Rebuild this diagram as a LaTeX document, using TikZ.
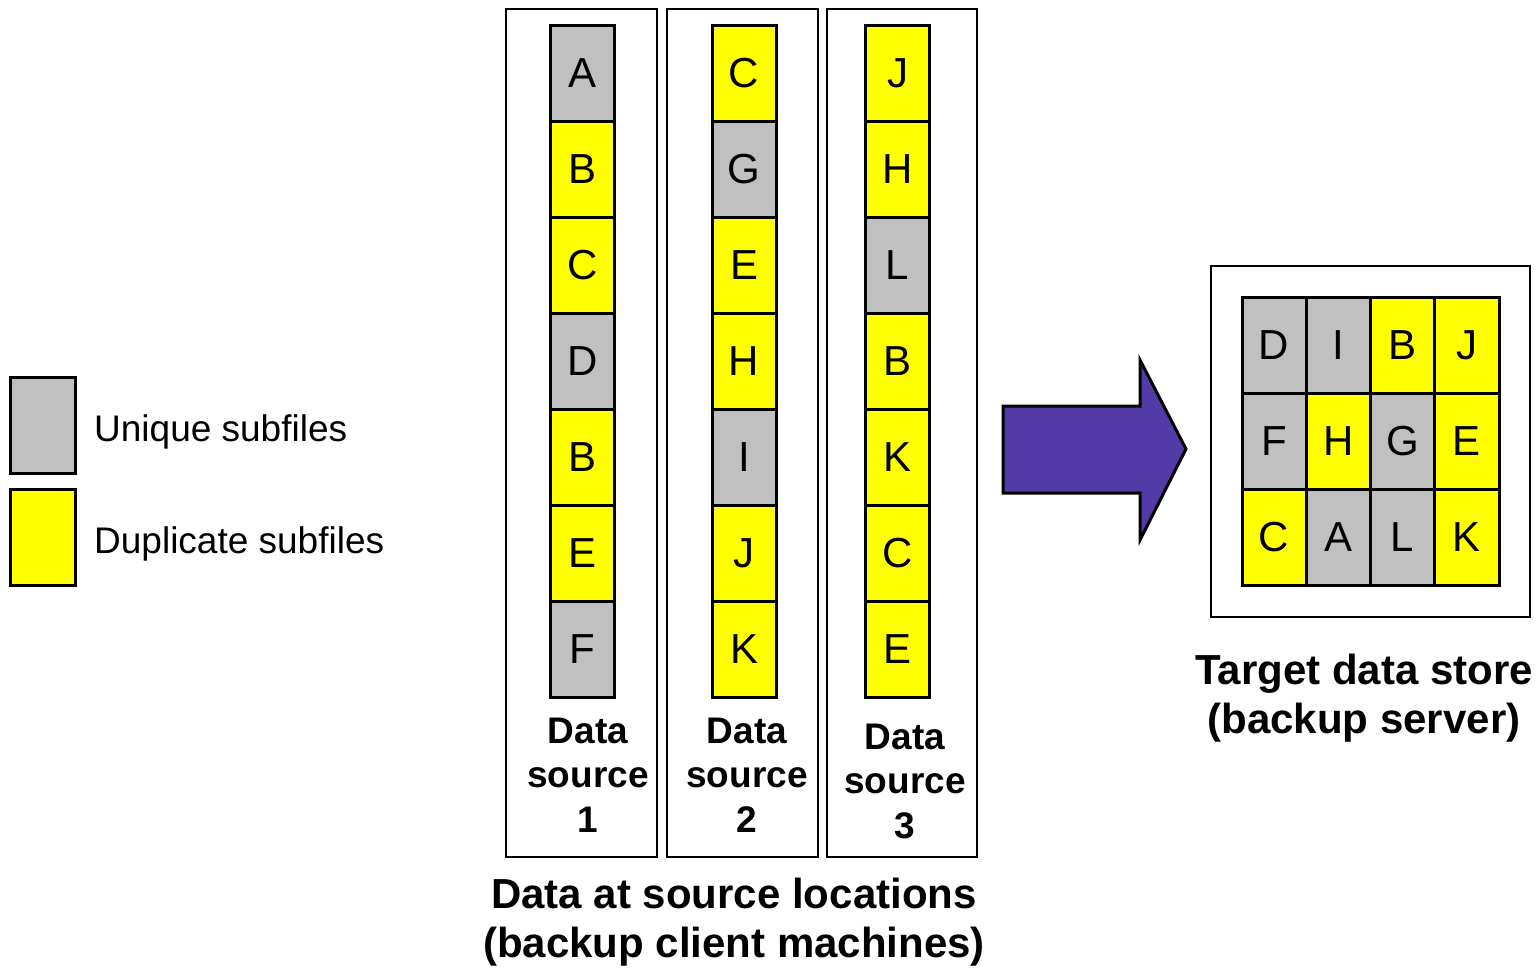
\documentclass[tikz,border=0pt]{standalone}
\usepackage{fontspec}
\setmainfont{Liberation Sans}
\definecolor{uniquegray}{RGB}{192,192,192}
\definecolor{dupyellow}{RGB}{255,255,0}
\definecolor{arrowpurple}{RGB}{82,59,166}
\begin{document}
\begin{tikzpicture}[x=1pt,y=-1pt,
  cell/.style={draw, line width=3pt, minimum width=64pt, minimum height=96pt,
    inner sep=0pt, font=\fontsize{42}{50}\selectfont},
  unicell/.style={cell, fill=uniquegray},
  dupcell/.style={cell, fill=dupyellow},
  srcbox/.style={draw, line width=2.5pt, inner sep=0pt},
  keybox/.style={draw, line width=3pt, minimum width=65pt, minimum height=96pt, inner sep=0pt},
  keytext/.style={anchor=base west, inner sep=0pt, font=\fontsize{37}{45}\selectfont},
  dslabel/.style={anchor=base, align=center, inner sep=0pt, font=\bfseries\fontsize{37}{44.5}\selectfont},
  caption/.style={anchor=base, align=center, inner sep=0pt, font=\bfseries\fontsize{42}{49}\selectfont}]
\useasboundingbox (0,0) rectangle (1539,970);

% legend
\node[keybox, fill=uniquegray] (keyu) at (42.5,425) {};
\node[keybox, fill=dupyellow] (keyd) at (42.5,537) {};
\node[keytext] (keyutext) at (94,441) {Unique subfiles};
\node[keytext] (keydtext) at (94,553) {Duplicate subfiles};

% source machines
\node[srcbox, minimum width=151pt, minimum height=848pt] (src1) at (581.5,433) {};
\node[srcbox, minimum width=151pt, minimum height=848pt] (src2) at (742.5,433) {};
\node[srcbox, minimum width=150pt, minimum height=848pt] (src3) at (902,433) {};

\foreach \t/\s [count=\i from 0] in {A/unicell,B/dupcell,C/dupcell,D/unicell,B/dupcell,E/dupcell,F/unicell}
  \node[\s] (a\i) at ({582.5},{73+96*\i}) {\t};
\foreach \t/\s [count=\i from 0] in {C/dupcell,G/unicell,E/dupcell,H/dupcell,I/unicell,J/dupcell,K/dupcell}
  \node[\s] (b\i) at ({744},{73+96*\i}) {\t};
\foreach \t/\s [count=\i from 0] in {J/dupcell,H/dupcell,L/unicell,B/dupcell,K/dupcell,C/dupcell,E/dupcell}
  \node[\s] (c\i) at ({897.5},{73+96*\i}) {\t};

% captions (base anchor sits on the last line)
\node[dslabel] (lab1) at (588,832) {Data\\source\\1};
\node[dslabel] (lab2) at (747,832) {Data\\source\\2};
\node[dslabel] (lab3) at (905,838) {Data\\source\\3};
\node[caption] (srccap) at (734,957) {Data at source locations\\(backup client machines)};

% transfer arrow
\draw[line width=3pt, fill=arrowpurple, line join=miter]
  (1003,406) -- (1140,406) -- (1140,360) -- (1186,449) -- (1140,540) -- (1140,493) -- (1003,493) -- cycle;

% target data store
\node[srcbox, minimum width=319pt, minimum height=351pt] (tgt) at (1370.5,441.5) {};
\foreach \t/\s [count=\j from 0] in {D/unicell,I/unicell,B/dupcell,J/dupcell}
  \node[\s, minimum width=64.25pt] (r1\j) at ({1274.125+64.25*\j},345) {\t};
\foreach \t/\s [count=\j from 0] in {F/unicell,H/dupcell,G/unicell,E/dupcell}
  \node[\s, minimum width=64.25pt] (r2\j) at ({1274.125+64.25*\j},441) {\t};
\foreach \t/\s [count=\j from 0] in {C/dupcell,A/unicell,L/unicell,K/dupcell}
  \node[\s, minimum width=64.25pt] (r3\j) at ({1274.125+64.25*\j},537) {\t};
\node[caption] (tgtcap) at (1364,733) {Target data store\\(backup server)};
\end{tikzpicture}
\end{document}
